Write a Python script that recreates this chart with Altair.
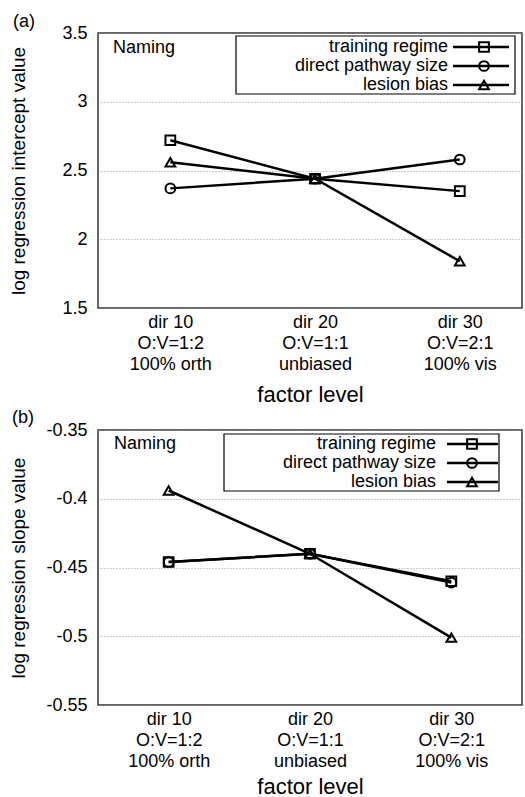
import altair as alt
import pandas as pd

# ---------------- data ----------------
levels = [1, 2, 3]
level_labels = [
    ["dir 10", "O:V=1:2", "100% orth"],
    ["dir 20", "O:V=1:1", "unbiased"],
    ["dir 30", "O:V=2:1", "100% vis"],
]
series = ["training regime", "direct pathway size", "lesion bias"]
shapes = ["square", "circle", "triangle-up"]

a_training = [2.72, 2.44, 2.35]
a_direct = [2.37, 2.44, 2.58]
a_lesion = [2.56, 2.44, 1.84]
a_ticks = [1.5, 2, 2.5, 3, 3.5]

b_training = [-0.446, -0.440, -0.460]
b_direct = [-0.446, -0.440, -0.461]
b_lesion = [-0.394, -0.440, -0.501]
b_ticks = [-0.55, -0.5, -0.45, -0.4, -0.35]

FONT = "Liberation Sans"


def make_df(vals):
    rows = []
    for s, v in zip(series, vals):
        for l, y in zip(levels, v):
            rows.append({"series": s, "level": l, "value": y})
    return pd.DataFrame(rows)


label_expr = (
    "split(["
    + ",".join("'" + "|".join(t) + "'" for t in level_labels)
    + "][datum.value - 1], '|')"
)


def one(text):
    return pd.DataFrame({"t": [text]})


def panel(df, ydom, yvals, ytitle, xmax, tag, tag_pos, naming_pos, leg, xtitle_y):
    x = alt.X(
        "level:Q",
        scale=alt.Scale(domain=[0.5, xmax], nice=False, zero=False),
        axis=alt.Axis(
            values=levels, labelExpr=label_expr, title="factor level",
            grid=False, ticks=False, domain=False, labelFlush=False,
            labelOverlap=False, labelFontSize=18, labelLineHeight=21,
            labelPadding=5, labelColor="black", titleColor="black",
            titleFontSize=22, titleFontWeight="normal",
            titleY=xtitle_y, titleBaseline="middle",
        ),
    )
    y = alt.Y(
        "value:Q",
        scale=alt.Scale(domain=ydom, nice=False, zero=False),
        axis=alt.Axis(
            values=yvals, labelExpr="datum.value + ''", title=ytitle,
            grid=True, gridDash=[1, 2], gridColor="#999", gridWidth=1,
            ticks=False, domain=False, labelFontSize=18, labelPadding=11,
            labelColor="black", titleColor="black",
            titleFontSize=19, titleFontWeight="normal",
            titleX=-80, titleBaseline="middle",
        ),
    )
    lines = alt.Chart(df).mark_line(color="black", strokeWidth=2.5).encode(
        x=x, y=y, detail="series:N"
    )
    pts = alt.Chart(df).mark_point(
        filled=False, color="black", strokeWidth=2, size=95, opacity=1
    ).encode(
        x=x, y=y,
        shape=alt.Shape("series:N", scale=alt.Scale(domain=series, range=shapes), legend=None),
    )
    layers = [lines, pts]
    # panel tag and "Naming"
    layers.append(
        alt.Chart(one(tag)).mark_text(align="left", baseline="middle", fontSize=18, font=FONT, color="black")
        .encode(x=alt.value(tag_pos[0]), y=alt.value(tag_pos[1]), text="t:N")
    )
    layers.append(
        alt.Chart(one("Naming")).mark_text(align="left", baseline="middle", fontSize=18, font=FONT, color="black")
        .encode(x=alt.value(naming_pos[0]), y=alt.value(naming_pos[1]), text="t:N")
    )
    # legend box
    bx0, bx1, by0, by1, tx, lx0, lx1, mx, rows = leg
    layers.append(
        alt.Chart(one("box")).mark_rect(fill="white", stroke="black", strokeWidth=1.2)
        .encode(x=alt.value(bx0), x2=alt.value(bx1), y=alt.value(by0), y2=alt.value(by1))
    )
    for s, shp, ry in zip(series, shapes, rows):
        layers.append(
            alt.Chart(one(s)).mark_text(align="right", baseline="middle", fontSize=18, font=FONT, color="black")
            .encode(x=alt.value(tx), y=alt.value(ry), text="t:N")
        )
        layers.append(
            alt.Chart(one(s)).mark_rule(color="black", strokeWidth=2.5)
            .encode(x=alt.value(lx0), x2=alt.value(lx1), y=alt.value(ry))
        )
        layers.append(
            alt.Chart(one(s)).mark_point(filled=False, color="black", strokeWidth=2, size=95, opacity=1)
            .encode(x=alt.value(mx), y=alt.value(ry), shape=alt.value(shp))
        )
    return alt.layer(*layers).properties(width=424, height=275)


pa = panel(
    make_df([a_training, a_direct, a_lesion]), [1.5, 3.5], a_ticks,
    "log regression intercept value", 3.43, "(a)", (-85, -11), (15, 15),
    (138, 417, 3, 61, 350, 355, 411, 386, [14, 33, 52]), 86,
)
pb = panel(
    make_df([b_training, b_direct, b_lesion]), [-0.55, -0.35], b_ticks,
    "log regression slope value", 3.5, "(b)", (-86, -12), (16, 14),
    (126, 401, 4, 61, 338, 349, 400, 374, [14, 33, 52]), 81,
)

chart = alt.vconcat(pa, pb, spacing=2).properties(
    padding={"left": 8, "top": 12, "right": 0, "bottom": 0}
).configure(font=FONT).configure_view(stroke="#333", strokeWidth=1.5)

chart.save("out.html", embed_options={"renderer": "svg", "actions": False})
